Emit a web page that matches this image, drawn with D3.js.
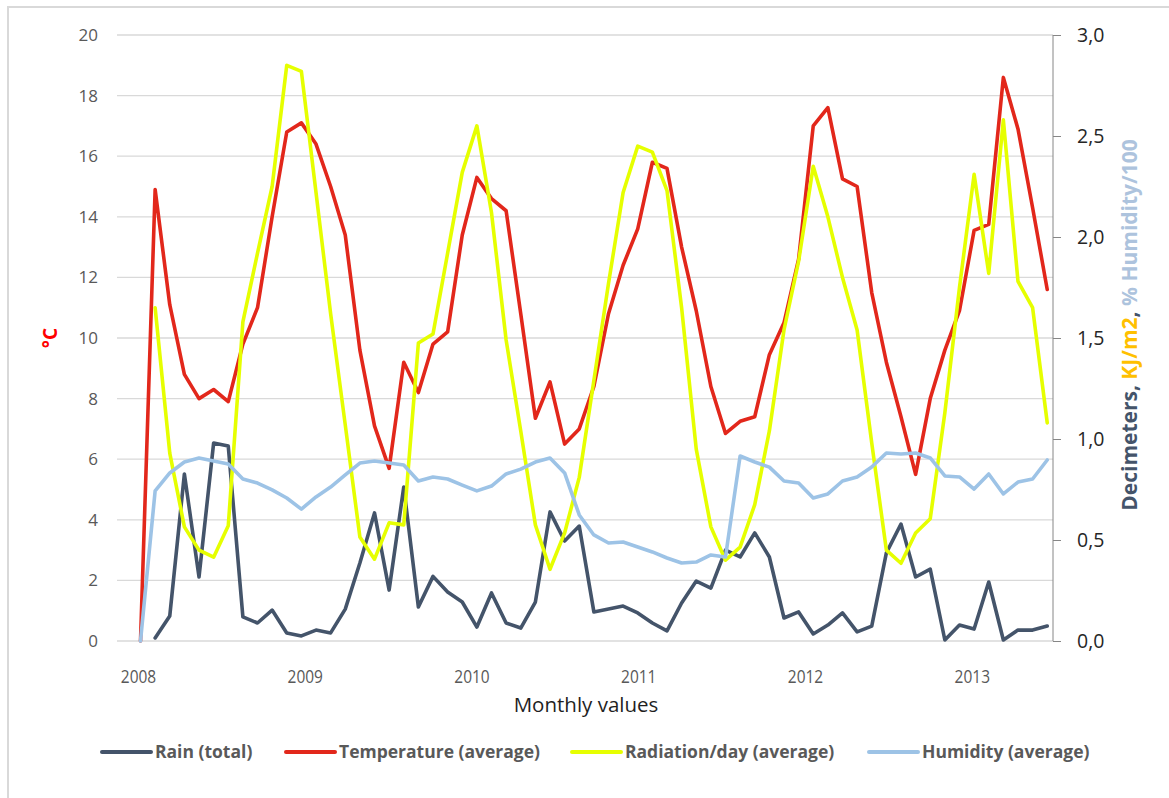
<!DOCTYPE html>
<html>
<head>
<meta charset="utf-8">
<script src="https://cdn.jsdelivr.net/npm/d3@7"></script>
<style>
  html, body { margin: 0; padding: 0; background: #ffffff; }
  svg { display: block; }
</style>
</head>
<body>
<svg id="chart" width="1169" height="798"></svg>
<script>
// ---------------- DATA ----------------
const seriesNames = ["Rain (total)", "Temperature (average)", "Radiation/day (average)", "Humidity (average)"];
const yearTicks = [2008, 2009, 2010, 2011, 2012, 2013];
const leftTicks = [0, 2, 4, 6, 8, 10, 12, 14, 16, 18, 20];
const rightTicks = [0, 0.5, 1.0, 1.5, 2.0, 2.5, 3.0];

// first plotted observation (in decimal years) and spacing between observations
const firstObsYear = 2008.015;
const obsStepYears = 0.0877;

// Temperature (°C, left axis)
const temperature = [0, 14.9, 11.1, 8.8, 8.0, 8.3, 7.9, 9.8, 11.0, 14.0, 16.8, 17.1, 16.4, 15.0, 13.4,
  9.6, 7.1, 5.7, 9.2, 8.2, 9.8, 10.2, 13.4, 15.3, 14.6, 14.2, 10.8, 7.35, 8.55, 6.5, 7.0, 8.4, 10.8,
  12.4, 13.6, 15.8, 15.6, 13.0, 10.9, 8.4, 6.85, 7.25, 7.4, 9.45, 10.5, 12.6, 17.0, 17.6, 15.25, 15.0,
  11.5, 9.2, 7.4, 5.5, 8.0, 9.6, 10.9, 13.55, 13.75, 18.6, 16.9, 14.3, 11.6];

// Rain (decimeters, right axis)
const rain = [null, 0.015, 0.124, 0.827, 0.317, 0.98, 0.965, 0.119, 0.089, 0.153, 0.04, 0.025, 0.054,
  0.04, 0.158, 0.386, 0.634, 0.252, 0.762, 0.168, 0.32, 0.243, 0.193, 0.069, 0.238, 0.089, 0.064,
  0.193, 0.639, 0.495, 0.569, 0.144, 0.158, 0.173, 0.139, 0.089, 0.05, 0.188, 0.297, 0.262, 0.45,
  0.416, 0.535, 0.416, 0.114, 0.144, 0.035, 0.079, 0.139, 0.045, 0.074, 0.436, 0.579, 0.317, 0.356,
  0.005, 0.079, 0.059, 0.292, 0.005, 0.054, 0.054, 0.074];

// Radiation per day (KJ/m2, right axis)
const radiation = [null, 1.65, 0.93, 0.565, 0.45, 0.415, 0.57, 1.58, 1.92, 2.25, 2.85, 2.82, 2.22,
  1.62, 1.07, 0.515, 0.405, 0.585, 0.575, 1.475, 1.52, 1.92, 2.32, 2.55, 2.12, 1.49, 1.04, 0.575,
  0.355, 0.535, 0.81, 1.29, 1.77, 2.22, 2.45, 2.42, 2.23, 1.65, 0.95, 0.565, 0.40, 0.465, 0.675,
  1.04, 1.54, 1.88, 2.35, 2.1, 1.8, 1.54, 0.98, 0.45, 0.385, 0.535, 0.605, 1.13, 1.75, 2.31, 1.82,
  2.58, 1.78, 1.65, 1.08];

// Humidity (% / 100, right axis)
const humidity = [0, 0.743, 0.832, 0.886, 0.906, 0.891, 0.876, 0.802, 0.782, 0.748, 0.708, 0.653,
  0.713, 0.762, 0.822, 0.881, 0.891, 0.881, 0.871, 0.792, 0.812, 0.802, 0.772, 0.743, 0.767, 0.827,
  0.851, 0.886, 0.906, 0.832, 0.624, 0.525, 0.485, 0.49, 0.465, 0.441, 0.411, 0.386, 0.391, 0.426,
  0.416, 0.916, 0.886, 0.861, 0.792, 0.782, 0.708, 0.728, 0.792, 0.812, 0.861, 0.931, 0.926, 0.931,
  0.906, 0.817, 0.812, 0.752, 0.827, 0.728, 0.787, 0.802, 0.896];

// ---------------- LAYOUT / STYLE ----------------
const W = 1169, H = 798;
const plot = { left: 117, right: 1053, top: 35, bottom: 641 };
const colors = { rain: "#44546a", temp: "#e2271b", rad: "#e6ff00", hum: "#9dc3e6" };
const FONT = "Open Sans, sans-serif";
const svg = d3.select("#chart");

// chart frame
svg.append("path")
  .attr("d", `M8,${H} L8,7 L${W},7`)
  .attr("fill", "none").attr("stroke", "#d9d9d9").attr("stroke-width", 2);

const x = d3.scaleLinear().domain([2007.874, 2013.487]).range([plot.left, plot.right]);
const yL = d3.scaleLinear().domain([0, 20]).range([plot.bottom, plot.top]);
const yR = d3.scaleLinear().domain([0, 3]).range([plot.bottom, plot.top]);
const obsX = i => x(firstObsYear + i * obsStepYears);

// gridlines
svg.append("g")
  .selectAll("line").data(leftTicks).join("line")
  .attr("x1", plot.left).attr("x2", plot.right)
  .attr("y1", d => yL(d)).attr("y2", d => yL(d))
  .attr("stroke", "#d9d9d9").attr("stroke-width", 1.3);

// left axis
const gL = svg.append("g").attr("transform", `translate(${plot.left - 19},0)`)
  .call(d3.axisLeft(yL).tickValues(leftTicks).tickSize(0).tickPadding(0).tickFormat(d3.format("d")));
gL.select(".domain").remove();
gL.selectAll("text").attr("font-family", FONT).attr("font-size", 17)
  .attr("fill", "#595959");

// right axis
const gR = svg.append("g").attr("transform", `translate(${plot.right},0)`)
  .call(d3.axisRight(yR).tickValues(rightTicks).tickSize(8).tickPadding(16)
    .tickFormat(d => d3.format(".1f")(d).replace(".", ",")));
gR.select(".domain").attr("stroke", "#868686").attr("d", `M0,${plot.top}V${plot.bottom}`);
gR.selectAll(".tick line").attr("stroke", "#868686");
gR.selectAll("text").attr("font-family", FONT).attr("font-size", 19.5)
  .attr("fill", "#262626");

// x axis labels
const gX = svg.append("g").attr("transform", `translate(0,${plot.bottom + 29})`)
  .call(d3.axisBottom(x).tickValues(yearTicks).tickSize(0).tickPadding(0).tickFormat(d3.format("d")));
gX.select(".domain").remove();
gX.selectAll("text").attr("font-family", FONT).attr("font-size", 18)
  .attr("fill", "#595959").attr("transform", "scale(0.86,1)");

// lines
function drawLine(values, yScale, color) {
  const line = d3.line()
    .defined(d => d.v !== null)
    .x(d => obsX(d.i))
    .y(d => yScale(d.v));
  svg.append("path")
    .datum(values.map((v, i) => ({ i, v })))
    .attr("d", line)
    .attr("fill", "none").attr("stroke", color).attr("stroke-width", 3.6)
    .attr("stroke-linejoin", "round").attr("stroke-linecap", "round");
}
drawLine(rain, yR, colors.rain);
drawLine(temperature, yL, colors.temp);
drawLine(radiation, yR, colors.rad);
drawLine(humidity, yR, colors.hum);

// axis titles
svg.append("text")
  .attr("transform", `translate(57,${(plot.top + plot.bottom) / 2}) rotate(-90)`)
  .attr("text-anchor", "middle")
  .attr("font-family", FONT).attr("font-size", 19).attr("font-weight", "bold")
  .attr("fill", "#ff0000").text("°C");

const rt = svg.append("text")
  .attr("transform", `translate(1137,325) rotate(-90)`)
  .attr("text-anchor", "middle")
  .attr("font-family", FONT).attr("font-size", 21).attr("font-weight", "bold");
rt.append("tspan").attr("fill", "#44546a").text("Decimeters, ");
rt.append("tspan").attr("fill", "#ffc000").text("KJ/m2");
rt.append("tspan").attr("fill", "#44546a").text(", ");
rt.append("tspan").attr("fill", "#adc3dd").text("% Humidity/100");

svg.append("text")
  .attr("x", 586).attr("y", 712)
  .attr("text-anchor", "middle")
  .attr("font-family", FONT).attr("font-size", 20.5)
  .attr("fill", "#1f1f1f").text("Monthly values");

// legend
const legendItems = [
  { name: seriesNames[0], color: colors.rain, x: 102 },
  { name: seriesNames[1], color: colors.temp, x: 286 },
  { name: seriesNames[2], color: colors.rad, x: 572 },
  { name: seriesNames[3], color: colors.hum, x: 869 }
];
const lg = svg.append("g").selectAll("g").data(legendItems).join("g")
  .attr("transform", d => `translate(${d.x},752)`);
lg.append("line").attr("x1", 0).attr("x2", 49).attr("y1", 0).attr("y2", 0)
  .attr("stroke", d => d.color).attr("stroke-width", 4).attr("stroke-linecap", "round");
lg.append("text").attr("x", 53).attr("y", 0).attr("dy", "0.35em")
  .attr("font-family", FONT).attr("font-size", 17.5).attr("font-weight", "bold")
  .attr("fill", "#595959").text(d => d.name);
</script>
</body>
</html>
